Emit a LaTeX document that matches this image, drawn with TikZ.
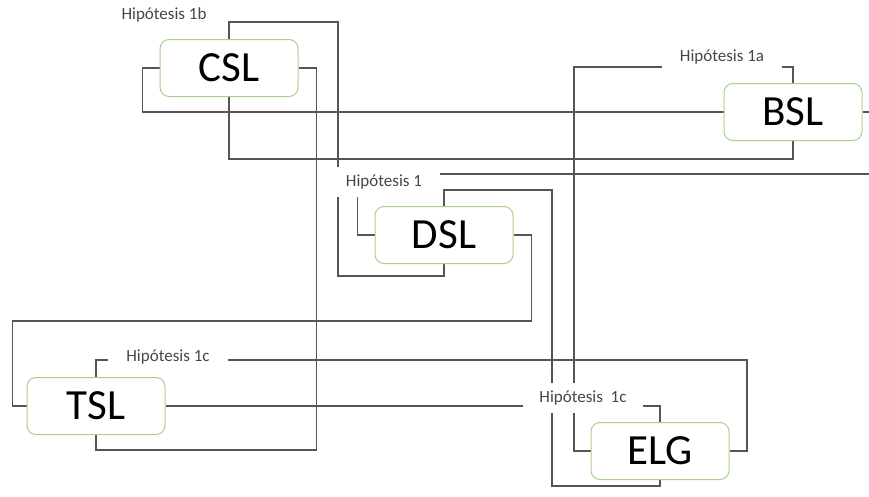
\documentclass[tikz,border=0pt]{standalone}
\usepackage{fontspec}
\setmainfont{Carlito}
\usepackage{tikz}
\usepackage{xcolor}
\definecolor{boxgreen}{RGB}{169,208,142}
\definecolor{linkgray}{RGB}{85,85,85}
\definecolor{labelgray}{RGB}{70,70,70}
\pgfdeclarelayer{background}
\pgfsetlayers{background,main}

\begin{document}
\begin{tikzpicture}[x=1pt,y=-1pt,
  slbox/.style={draw=boxgreen,line width=1pt,rounded corners=9pt,fill=white,minimum width=138pt,minimum height=57pt,inner sep=0pt,font=\fontsize{43}{43}\selectfont},
  hyp/.style={fill=white,minimum width=120pt,minimum height=30pt,inner sep=0pt,text=labelgray,font=\fontsize{17}{17}\selectfont},
  link/.style={draw=linkgray,line width=1.3pt}]
\useasboundingbox (0,0) rectangle (869,496);
\node[slbox] (csl) at (229,68) {CSL};
\node[slbox] (bsl) at (793,112) {BSL};
\node[slbox] (dsl) at (444,235) {DSL};
\node[slbox] (tsl) at (96,406) {TSL};
\node[slbox] (elg) at (660,451) {ELG};
\node[hyp] (h1b) at (164,15) {Hipótesis 1b};
\node[hyp] (h1a) at (722,57) {Hipótesis 1a};
\node[hyp,minimum width=112pt] (h1) at (384,182) {Hipótesis 1};
\node[hyp] (h1c) at (168,357) {Hipótesis 1c};
\node[hyp] (h1cc) at (583,398) {Hipótesis~~1c};
\begin{pgfonlayer}{background}
\draw[link] (csl.west) -- ++(-17,0) |- (bsl.west);
\draw[link] (csl.south) -- ++(0,62) -| (bsl.south);
\draw[link] (csl.north) -- ++(0,-17) -- ++(109,0) -- ++(0,254) -| (dsl.south);
\draw[link] (csl.east) -- ++(18,0) -- ++(0,382) -| (tsl.south);
\draw[link] (bsl.north) -- ++(0,-16) -- ++(-219,0) |- (elg.west);
\draw[link] (bsl.east) -- ++(10,0) |- ([yshift=8pt]h1.center);
\draw[link] (dsl.west) -- ++(-17,0) |- (h1.center);
\draw[link] (dsl.north) -- ++(0,-16) -- ++(108,0) -- ++(0,296) -| (elg.south);
\draw[link] (dsl.east) -- ++(18,0) -- ++(0,86) -- ++(-519,0) |- (tsl.west);
\draw[link] (tsl.north) -- ++(0,-17) -- ++(651,0) |- (elg.east);
\draw[link] (tsl.east) -| (elg.north);
\end{pgfonlayer}
\end{tikzpicture}
\end{document}
